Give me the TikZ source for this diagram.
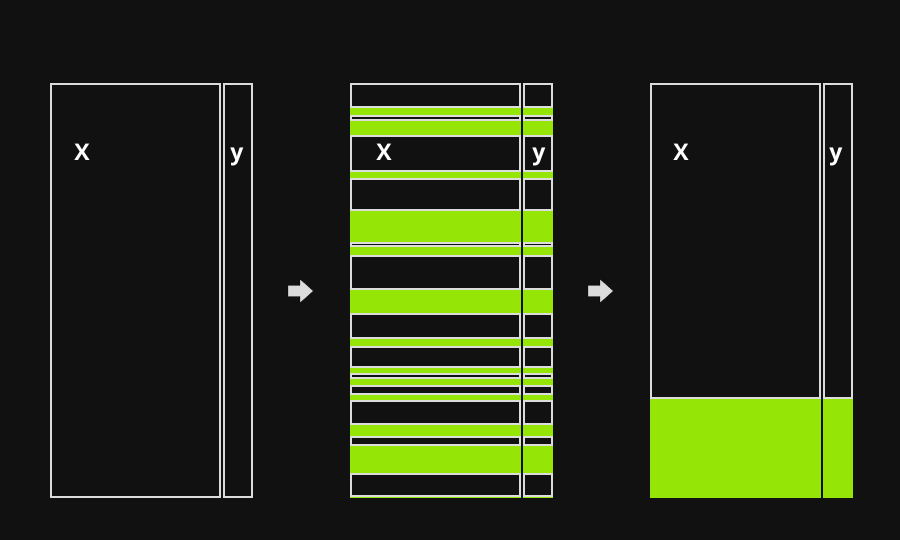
\documentclass[tikz,border=0pt]{standalone}
\usepackage{fontspec}
\setsansfont{Open Sans}
\usepackage{tikz}

\definecolor{bgdark}{HTML}{111111}
\definecolor{edgegray}{HTML}{DCDCDC}
\definecolor{selgreen}{HTML}{95E507}

\tikzset{
    cell/.style={draw=edgegray, line width=2pt, fill=bgdark},
    picked/.style={fill=selgreen},
    colname/.style={text=white, anchor=base, font=\sffamily\bfseries\fontsize{23}{23}\selectfont},
    flowarrow/.style={fill=edgegray}
}

\begin{document}
\begin{tikzpicture}[x=1pt, y=-1pt]
        \fill [bgdark] (0,0) rectangle (900,540);
        \useasboundingbox (0,0) rectangle (900,540);

        % full data
        \draw [cell] (51,84) rectangle (220.3,496.5);
        \draw [cell] (224,84) rectangle (252,496.5);
        \node [colname] (xall) at (82,161) {X};
        \node [colname] (yall) at (237,161) {y};

        \draw [flowarrow] (288,285.5) -- (300,285.5) -- (300,279) -- (313.5,291)
            -- (300,303) -- (300,296.5) -- (288,296.5) -- cycle;

        % sampled rows
        \fill [picked] (350,83) rectangle (521.3,497.5);
        \fill [picked] (523,83) rectangle (553,497.5);
        \draw [cell] (351,84) rectangle (520.3,107.3) (524,84) rectangle (552,107.3);
        \draw [cell] (351,116.3) rectangle (520.3,119.7) (524,116.3) rectangle (552,119.7);
        \draw [cell] (351,136.3) rectangle (520.3,171.3) (524,136.3) rectangle (552,171.3);
        \draw [cell] (351,179.3) rectangle (520.3,209.7) (524,179.3) rectangle (552,209.7);
        \draw [cell] (351,243.3) rectangle (520.3,246) (524,243.3) rectangle (552,246);
        \draw [cell] (351,256.3) rectangle (520.3,289) (524,256.3) rectangle (552,289);
        \draw [cell] (351,314.3) rectangle (520.3,338) (524,314.3) rectangle (552,338);
        \draw [cell] (351,347) rectangle (520.3,366.7) (524,347) rectangle (552,366.7);
        \draw [cell] (351,374) rectangle (520.3,377.7) (524,374) rectangle (552,377.7);
        \draw [cell] (351,386.3) rectangle (520.3,393.7) (524,386.3) rectangle (552,393.7);
        \draw [cell] (351,401.3) rectangle (520.3,424) (524,401.3) rectangle (552,424);
        \draw [cell] (351,437) rectangle (520.3,444.7) (524,437) rectangle (552,444.7);
        \draw [cell] (351,474.3) rectangle (520.3,496.3) (524,474.3) rectangle (552,496.3);
        \node [colname] (xmid) at (384,161) {X};
        \node [colname] (ymid) at (539,161) {y};

        \draw [flowarrow] (588,285.5) -- (600,285.5) -- (600,279) -- (613.5,291)
            -- (600,303) -- (600,296.5) -- (588,296.5) -- cycle;

        % sorted rows
        \fill [picked] (650,398.5) rectangle (821.3,497.5);
        \fill [picked] (823,398.5) rectangle (853,497.5);
        \draw [cell] (651,84) rectangle (820.3,398) (824,84) rectangle (852,398);
        \node [colname] (xend) at (681,161) {X};
        \node [colname] (yend) at (836,161) {y};
    \end{tikzpicture}
\end{document}
